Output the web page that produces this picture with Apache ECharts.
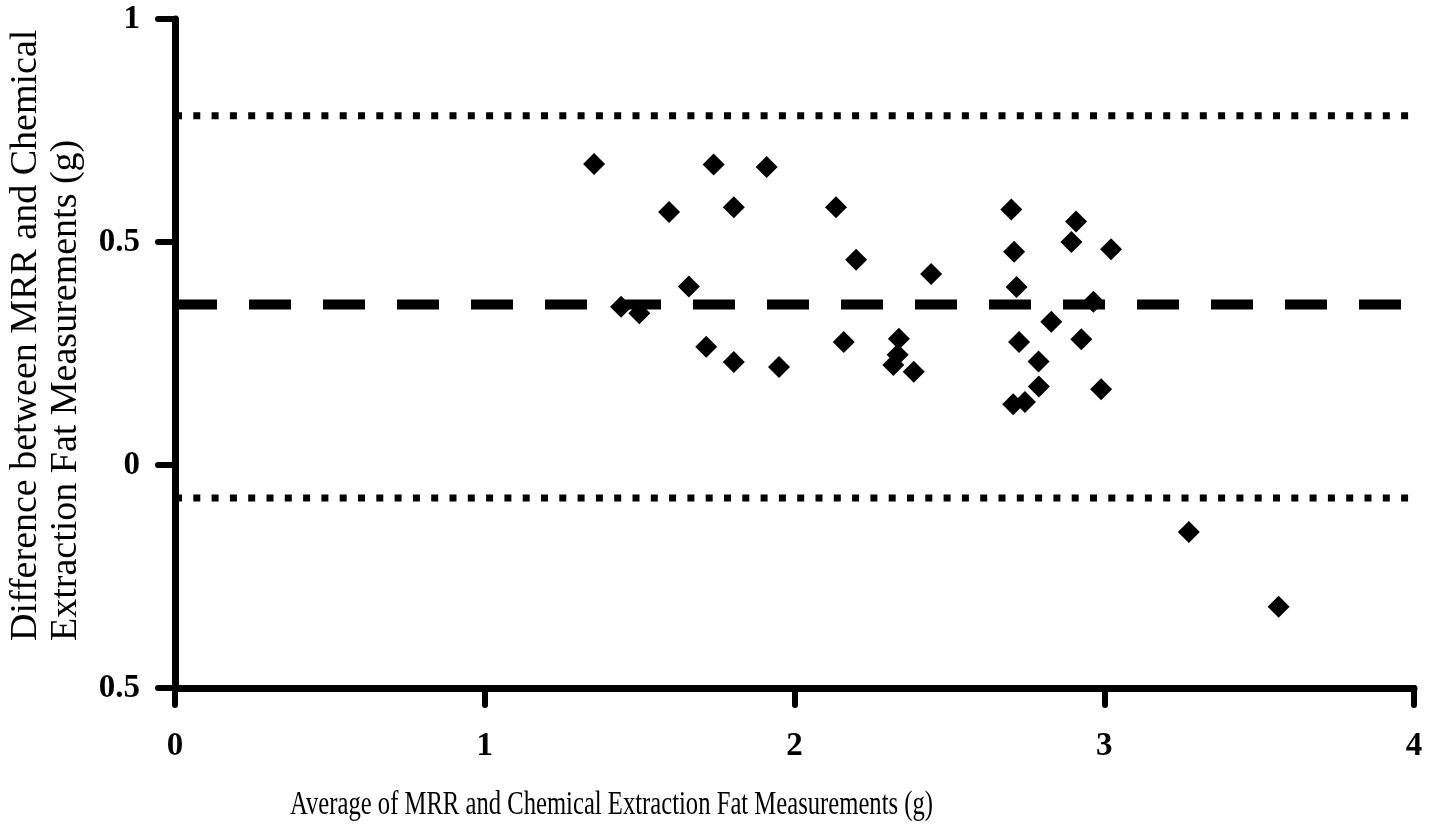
<!DOCTYPE html>
<html>
<head>
<meta charset="utf-8">
<script src="https://cdn.jsdelivr.net/npm/echarts@6/dist/echarts.min.js"></script>
<style>
  html, body { margin: 0; padding: 0; background: #fff; }
  #chart { width: 1439px; height: 830px; }
</style>
</head>
<body>
<div id="chart"></div>
<script>
// Gemiddelde van beide metingen (x) en het verschil (y)
const avgValues = [
  1.353, 1.595, 1.739, 1.804, 1.910, 2.134, 2.199, 2.441, 1.659, 1.440,
  1.499, 1.715, 1.804, 1.950, 2.159, 2.337, 2.333, 2.319, 2.385, 2.700,
  2.709, 2.717, 2.909, 2.894, 3.022, 2.965, 2.829, 2.725, 2.926, 2.788,
  2.789, 2.990, 2.706, 2.744, 3.273, 3.563
];
const diffValues = [
  0.675, 0.567, 0.674, 0.578, 0.668, 0.578, 0.460, 0.428, 0.400, 0.355,
  0.340, 0.265, 0.231, 0.220, 0.276, 0.283, 0.247, 0.224, 0.209, 0.573,
  0.478, 0.399, 0.546, 0.500, 0.484, 0.366, 0.321, 0.276, 0.282, 0.232,
  0.176, 0.170, 0.136, 0.141, -0.150, -0.318
];

// Bias en limits of agreement
const meanDiff = 0.36;
const upperLimit = 0.783;
const lowerLimit = -0.074;

const xTicks = [0, 1, 2, 3, 4];
const yTickValues = [-0.5, 0, 0.5, 1];
const yTickLabels = ['0.5', '0', '0.5', '1'];

const xTitle = 'Average of MRR and Chemical Extraction Fat Measurements (g)';
const yTitle = 'Difference between MRR and Chemical\nExtraction Fat Measurements (g)';

const xMin = xTicks[0], xMax = xTicks[xTicks.length - 1];

let chart = echarts.init(document.getElementById('chart'));

const axisFont = 'Liberation Serif';

let option = {
  animation: false,
  backgroundColor: '#fff',
  grid: { left: 175, right: 25, top: 19, bottom: 142, containLabel: false },
  xAxis: {
    type: 'value',
    min: xMin,
    max: xMax,
    interval: 1,
    axisLine: { onZero: false, lineStyle: { color: '#000', width: 7 } },
    axisTick: { show: true, length: 17, lineStyle: { color: '#000', width: 6, cap: 'round' } },
    axisLabel: {
      margin: 42,
      color: '#000',
      fontFamily: axisFont,
      fontWeight: 'bold',
      fontSize: 33
    },
    splitLine: { show: false }
  },
  yAxis: {
    type: 'value',
    min: -0.5,
    max: 1,
    interval: 0.5,
    axisLine: { onZero: false, lineStyle: { color: '#000', width: 7 } },
    axisTick: { show: true, length: 17, lineStyle: { color: '#000', width: 6, cap: 'round' } },
    axisLabel: {
      margin: 35,
      color: '#000',
      fontFamily: axisFont,
      fontWeight: 'bold',
      fontSize: 33,
      formatter: v => {
        let i = yTickValues.findIndex(t => Math.abs(t - v) < 1e-9);
        return i >= 0 ? yTickLabels[i] : '';
      }
    },
    splitLine: { show: false }
  },
  graphic: [
    {
      type: 'text',
      x: 290,
      y: 805,
      scaleX: 0.725,
      style: {
        text: xTitle,
        fill: '#000',
        font: '34px "Liberation Serif"',
        align: 'left',
        verticalAlign: 'middle'
      }
    },
    {
      type: 'text',
      x: 46,
      y: 641,
      rotation: Math.PI / 2,
      style: {
        text: yTitle,
        fill: '#000',
        font: '38px "Liberation Serif"',
        lineHeight: 40,
        align: 'left',
        verticalAlign: 'middle'
      }
    }
  ],
  series: [
    {
      type: 'line',
      z: 1,
      silent: true,
      showSymbol: false,
      data: [[xMin, upperLimit], [xMax, upperLimit]],
      lineStyle: { color: '#000', width: 7, type: [7, 11.3] }
    },
    {
      type: 'line',
      z: 1,
      silent: true,
      showSymbol: false,
      data: [[xMin, meanDiff], [xMax, meanDiff]],
      lineStyle: { color: '#000', width: 10, type: [42, 32] }
    },
    {
      type: 'line',
      z: 1,
      silent: true,
      showSymbol: false,
      data: [[xMin, lowerLimit], [xMax, lowerLimit]],
      lineStyle: { color: '#000', width: 7, type: [7, 11.3] }
    },
    {
      type: 'scatter',
      z: 3,
      symbol: 'diamond',
      symbolSize: 22,
      itemStyle: { color: '#000', opacity: 1 },
      data: avgValues.map((x, i) => [x, diffValues[i]])
    }
  ]
};

chart.setOption(option);
window.onresize = () => chart.resize();
</script>
</body>
</html>
